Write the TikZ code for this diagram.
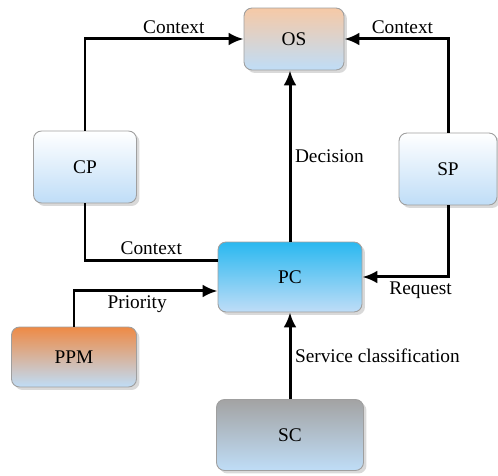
\documentclass[tikz,border=0pt]{standalone}
\usepackage{fontspec}
\setmainfont{Liberation Serif}
\usetikzlibrary{shapes,arrows.meta,shadows}
\definecolor{paleblue}{HTML}{BFDDF7}
\definecolor{peach}{HTML}{F6C9A6}
\definecolor{skycyan}{HTML}{2AB8F0}
\definecolor{ppmorange}{HTML}{EE8A45}
\definecolor{scgray}{HTML}{A3A3A3}
\tikzset{%
  >={Latex[width=2.6mm,length=3mm]},
  % Specifications for style of nodes:
        base/.style = {rectangle, rounded corners=1.6mm, draw=gray!75, line width=0.5pt,
                       text centered, font=\fontsize{11}{13}\selectfont\rmfamily,
                       drop shadow={opacity=0.3, shadow xshift=0.6mm, shadow yshift=-0.6mm},
                       middle color=paleblue, bottom color=paleblue},
     osbox/.style = {base, top color=peach, minimum width=2cm, minimum height=1.24cm},
   sidebox/.style = {base, top color=white, minimum width=2cm, minimum height=1.44cm},
     pcbox/.style = {base, top color=skycyan, minimum width=2.88cm, minimum height=1.4cm},
    ppmbox/.style = {base, top color=ppmorange, minimum width=2.5cm, minimum height=1.2cm},
     scbox/.style = {base, top color=scgray, minimum width=2.94cm, minimum height=1.42cm},
      link/.style = {line width=0.6mm},
     label/.style = {font=\fontsize{11}{13}\selectfont\rmfamily, inner sep=2pt},
}
\begin{document}
\begin{tikzpicture}[x=0.02cm, y=-0.02cm]
  \useasboundingbox (0,0) rectangle (498,476);
  \node (os)  [osbox]                          at (294,39)  {OS};
  \node (cp)  [sidebox, minimum width=2.06cm]  at (85,167)  {CP};
  \node (sp)  [sidebox, minimum width=1.96cm]  at (448,169) {SP};
  \node (pc)  [pcbox]                          at (290,277) {PC};
  \node (ppm) [ppmbox]                         at (74,357)  {PPM};
  \node (sc)  [scbox]                          at (290,435) {SC};

  \draw[link, ->] (cp.north) |- node[label, above, pos=0.78] {Context} (os.west);
  \draw[link, ->] (sp.north) |- node[label, above, pos=0.72] {Context} (os.east);
  \draw[link, ->] (pc.north) -- node[label, right] {Decision} (pc.north |- os.south);
  \draw[link]     (cp.south) |- node[label, above, pos=0.75] {Context} ([yshift=0.34cm]pc.west);
  \draw[link, ->] (ppm.north) |- node[label, below, pos=0.72] {Priority} ([yshift=-0.28cm]pc.west);
  \draw[link, ->] (sp.south) |- node[label, below, pos=0.66] {Request} (pc.east);
  \draw[link, ->] (sc.north) -- node[label, right] {Service classification} (pc.south);
\end{tikzpicture}
\end{document}
